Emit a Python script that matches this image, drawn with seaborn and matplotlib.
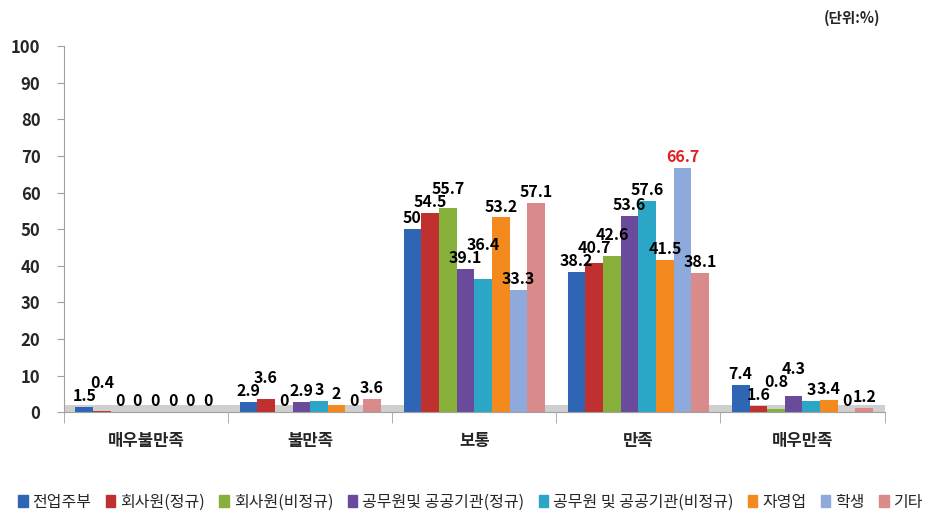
import matplotlib
matplotlib.use("Agg")
import matplotlib.pyplot as plt
import seaborn as sns
import pandas as pd
from matplotlib.ticker import FixedLocator

categories = ["매우불만족", "불만족", "보통", "만족", "매우만족"]
groups = ["전업주부", "회사원(정규)", "회사원(비정규)", "공무원및 공공기관(정규)",
          "공무원 및 공공기관(비정규)", "자영업", "학생", "기타"]
values = {
    "전업주부":                [1.5, 2.9, 50.0, 38.2, 7.4],
    "회사원(정규)":            [0.4, 3.6, 54.5, 40.7, 1.6],
    "회사원(비정규)":          [0.0, 0.0, 55.7, 42.6, 0.8],
    "공무원및 공공기관(정규)":  [0.0, 2.9, 39.1, 53.6, 4.3],
    "공무원 및 공공기관(비정규)": [0.0, 3.0, 36.4, 57.6, 3.0],
    "자영업":                  [0.0, 2.0, 53.2, 41.5, 3.4],
    "학생":                    [0.0, 0.0, 33.3, 66.7, 0.0],
    "기타":                    [0.0, 3.6, 57.1, 38.1, 1.2],
}
colors = ["#2F65B5", "#C0302F", "#86B03A", "#6A4A9A", "#2BA6C6", "#F4891E", "#8EA9DB", "#D98A8A"]
yticks = list(range(0, 101, 10))
highlight = ("만족", "학생")

rows = []
for g in groups:
    for c, v in zip(categories, values[g]):
        rows.append({"cat": c, "group": g, "val": v})
df = pd.DataFrame(rows)

sns.set_style("white")
plt.rcParams["font.family"] = ["Noto Sans CJK KR", "DejaVu Sans"]

fig = plt.figure(figsize=(9.41, 5.25), dpi=100)
ax = fig.add_axes([0.068, 0.215, 0.872, 0.697])

ax.axhspan(0, 2.0, color="#CFCFCF", zorder=0, lw=0)

sns.barplot(data=df, x="cat", y="val", hue="group", order=categories, hue_order=groups,
            palette=colors, width=0.86, ax=ax, edgecolor="none", saturation=1, zorder=2)

ax.set_ylim(0, 100)
ax.set_xlim(-0.5, len(categories) - 0.5)
ax.set_yticks(yticks)
ax.set_xlabel("")
ax.set_ylabel("")
for lab in ax.get_yticklabels():
    lab.set_fontweight("bold")
ax.tick_params(axis="y", labelsize=12, length=5, direction="out", color="#A0A0A0", left=True, pad=12)
ax.tick_params(axis="x", which="major", length=0, labelsize=12, pad=14)
ax.xaxis.set_minor_locator(FixedLocator([i - 0.5 for i in range(len(categories) + 1)]))
ax.tick_params(axis="x", which="minor", length=8, direction="out", color="#A0A0A0", bottom=True)
for lab in ax.get_xticklabels():
    lab.set_fontweight("bold")

for s in ["top", "right"]:
    ax.spines[s].set_visible(False)
for s in ["left", "bottom"]:
    ax.spines[s].set_color("#A0A0A0")

ax.legend_.remove()
handles = [plt.Rectangle((0, 0), 1, 1, color=c) for c in colors]
fig.legend(handles, groups, loc="lower center", ncol=8, frameon=False, fontsize=11.5,
           bbox_to_anchor=(0.5, 0.0), handlelength=0.6, handleheight=0.8, handletextpad=0.3,
           columnspacing=0.9)

fig.text(0.935, 0.965, "(단위:%)", ha="right", va="center", fontsize=10.5, fontweight="bold")

# value labels, nudged upward when they collide with a neighbour's label
fig.canvas.draw()
renderer = fig.canvas.get_renderer()
inv = ax.transData.inverted()
for ci in range(len(categories)):
    placed = []
    for gi, cont in enumerate(ax.containers):
        g = groups[gi]
        bar = cont[ci]
        v = values[g][ci]
        col = "#E02020" if (categories[ci], g) == highlight else "black"
        y = bar.get_height() + 0.8
        t = ax.text(bar.get_x() + bar.get_width() / 2, y, f"{v:g}", ha="center", va="bottom",
                    fontsize=11.5, fontweight="bold", color=col, zorder=5)
        for _ in range(10):
            bb = t.get_window_extent(renderer)
            hit = None
            for pb in placed:
                if bb.x0 < pb.x1 - 1 and bb.x1 > pb.x0 + 1 and bb.y0 < pb.y1 - 3 and bb.y1 > pb.y0 + 3:
                    hit = pb
                    break
            if hit is None:
                break
            dy = hit.y1 - 3 - bb.y0
            y0d = inv.transform((0, bb.y0))[1]
            y1d = inv.transform((0, bb.y0 + dy))[1]
            y += (y1d - y0d)
            t.set_y(y)
        placed.append(t.get_window_extent(renderer))

fig.savefig("out.png", dpi=100)
